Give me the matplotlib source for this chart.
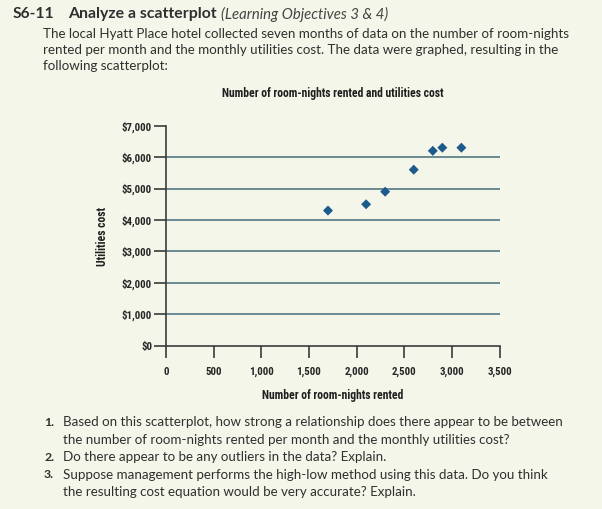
import matplotlib
matplotlib.use("Agg")
import matplotlib.pyplot as plt

# ---- data ----
room_nights = [1700, 2100, 2300, 2600, 2800, 2900, 3100]
utilities_cost = [4300, 4500, 4900, 5600, 6200, 6300, 6300]
x_ticks = [0, 500, 1000, 1500, 2000, 2500, 3000, 3500]
x_tick_labels = ["0", "500", "1,000", "1,500", "2,000", "2,500", "3,000", "3,500"]
y_ticks = [0, 1000, 2000, 3000, 4000, 5000, 6000, 7000]
y_tick_labels = ["$0", "$1,000", "$2,000", "$3,000", "$4,000", "$5,000", "$6,000", "$7,000"]
grid_levels = [1000, 2000, 3000, 4000, 5000, 6000]

title_code = "S6-11"
title_main = "Analyze a scatterplot"
title_obj = "(Learning Objectives 3 & 4)"
intro_lines = [
    "The local Hyatt Place hotel collected seven months of data on the number of room-nights",
    "rented per month and the monthly utilities cost. The data were graphed, resulting in the",
    "following scatterplot:",
]
chart_title = "Number of room-nights rented and utilities cost"
x_label = "Number of room-nights rented"
y_label = "Utilities cost"
questions = [
    ("1.", ["Based on this scatterplot, how strong a relationship does there appear to be between",
            "the number of room-nights rented per month and the monthly utilities cost?"]),
    ("2.", ["Do there appear to be any outliers in the data? Explain."]),
    ("3.", ["Suppose management performs the high-low method using this data. Do you think",
            "the resulting cost equation would be very accurate? Explain."]),
]

W, H = 602, 509
BG = "#f5f6ea"
TXT = "#2f2f2f"
COND = ["Liberation Sans Narrow", "Roboto Condensed", "DejaVu Sans"]
BODY = ["Lato", "DejaVu Sans"]

fig = plt.figure(figsize=(W / 100, H / 100), dpi=100, facecolor=BG)


def px(x, y):
    return x / W, 1 - y / H


# axes placed in pixel coordinates
left, right, top, bottom = 166, 499.5, 125.7, 345.7
ax = fig.add_axes([left / W, 1 - bottom / H, (right - left) / W, (bottom - top) / H])
ax.set_facecolor(BG)
ax.set_xlim(0, 3500)
ax.set_ylim(0, 7000)

for g in grid_levels:
    ax.axhline(g, color="#6a8b93", lw=1.4, zorder=1)

ax.scatter(room_nights, utilities_cost, marker="D", s=26, color="#1d5a8c",
           edgecolors="none", zorder=3)

for side in ("top", "right"):
    ax.spines[side].set_visible(False)
for side in ("left", "bottom"):
    ax.spines[side].set_color("#3a3a3a")
    ax.spines[side].set_linewidth(1.2)

ax.set_xticks(x_ticks)
ax.set_xticklabels(x_tick_labels)
ax.set_yticks(y_ticks)
ax.set_yticklabels(y_tick_labels)
ax.tick_params(axis="both", direction="out", length=8.5, width=1.2, color="#3a3a3a",
               labelcolor="#262626")
ax.tick_params(axis="y", pad=1.5)
ax.tick_params(axis="x", pad=6.5)
for lab in ax.get_xticklabels() + ax.get_yticklabels():
    lab.set_fontfamily(COND)
    lab.set_fontweight("bold")
    lab.set_fontsize(7.8)

# chart texts
fig.text(*px(333, 93), chart_title, family=COND, weight="bold", fontsize=8.4,
         color="#1f1f1f", ha="center", va="center")
fig.text(*px(333, 396), x_label, family=COND, weight="bold", fontsize=8.4,
         color="#1f1f1f", ha="center", va="center")
fig.text(*px(103, 237), y_label, family=COND, weight="bold", fontsize=8.4,
         color="#1f1f1f", ha="center", va="center", rotation=90)

# page texts
fig.text(*px(12.5, 14), title_code, family=BODY, weight="bold", fontsize=11.2,
         color=TXT, ha="left", va="center")
fig.text(*px(68, 14), title_main, family=BODY, weight="bold", fontsize=11.4,
         color=TXT, ha="left", va="center")
fig.text(*px(221, 14.5), title_obj, family=BODY, style="italic", fontsize=10.7,
         color="#444444", ha="left", va="center")

for i, line in enumerate(intro_lines):
    fig.text(*px(43, 34 + 16.2 * i), line, family=BODY, fontsize=9.6, color=TXT,
             ha="left", va="center")

y = 422.5
for num, lines in questions:
    fig.text(*px(44, y), num, family=BODY, weight="bold", fontsize=8.8, color=TXT,
             ha="left", va="center")
    for line in lines:
        fig.text(*px(63, y), line, family=BODY, fontsize=9.6, color=TXT,
                 ha="left", va="center")
        y += 17.4

fig.savefig("out.png", dpi=100, facecolor=BG)
